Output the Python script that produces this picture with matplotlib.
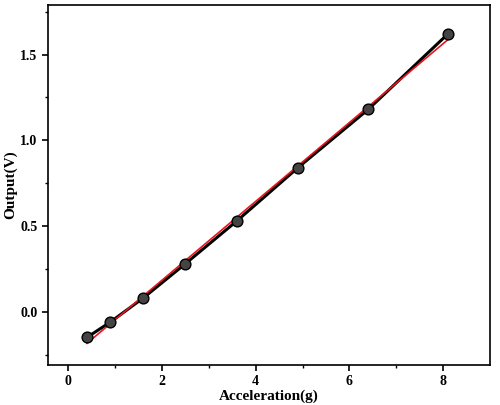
import matplotlib
matplotlib.use("Agg")
import matplotlib.pyplot as plt
import numpy as np

accel = [0.4, 0.9, 1.6, 2.5, 3.6, 4.9, 6.4, 8.1]
output = [-0.15, -0.06, 0.08, 0.28, 0.53, 0.84, 1.18, 1.62]

plt.rcParams['font.family'] = ['Liberation Serif']
plt.rcParams['font.weight'] = 'bold'

fig = plt.figure(figsize=(5.0, 4.05), dpi=100)
ax = fig.add_axes([0.096, 0.099, 0.884, 0.889])

# linear fit (red)
k, b = np.polyfit(accel, output, 1)
xf = np.array([accel[0], accel[-1]])
ax.plot(accel, output, '-', color='black', lw=2.2, zorder=2)
ax.plot(xf, k * xf + b, '-', color='#e8141c', lw=1.2, zorder=3)
ax.scatter(accel, output, s=60, c='#444444', edgecolors='black', linewidths=1.0, zorder=4)

ax.set_xlim(-0.43, 9.0)
ax.set_ylim(-0.31, 1.79)
ax.set_xticks([0, 2, 4, 6, 8])
ax.set_yticks([0.0, 0.5, 1.0, 1.5])
ax.set_xticks(np.arange(1, 9, 2), minor=True)
ax.set_yticks(np.arange(-0.25, 1.8, 0.5), minor=True)
ax.tick_params(direction='out', width=1.2, length=4, labelsize=10)
ax.tick_params(which='minor', direction='out', width=1.0, length=2)
for s in ax.spines.values():
    s.set_linewidth(1.2)
ax.set_xlabel('Acceleration(g)', fontsize=11, fontweight='bold', labelpad=1)
ax.set_ylabel('Output(V)', fontsize=11, fontweight='bold', labelpad=2)

fig.savefig('out.png', dpi=100)
